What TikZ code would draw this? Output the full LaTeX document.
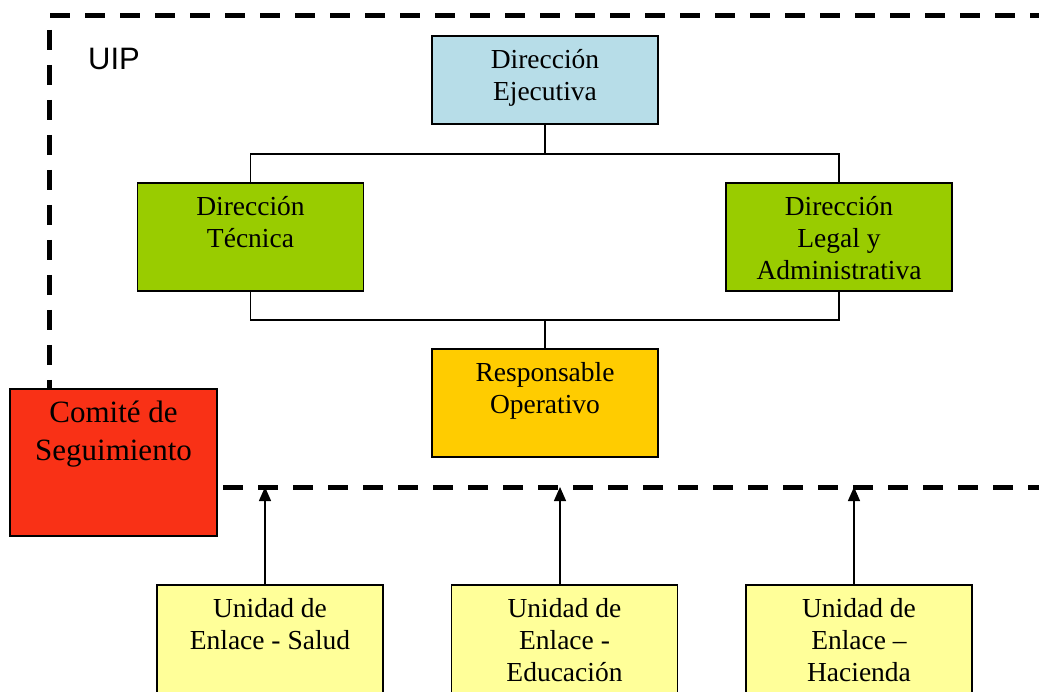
\documentclass[tikz,border=0pt]{standalone}
\usepackage{fontspec}
\setmainfont{Liberation Serif}
\newfontfamily\uipfont{Liberation Sans}
\usetikzlibrary{arrows.meta}
\definecolor{blueE}{HTML}{B7DDE8}
\definecolor{greenD}{HTML}{99CC00}
\definecolor{orangeR}{HTML}{FFCC00}
\definecolor{redC}{HTML}{F93116}
\definecolor{yellowU}{HTML}{FFFF99}
\newcommand\topstrutx{\rule{0pt}{24pt}}
\begin{document}
\begin{tikzpicture}[x=1pt,y=-1pt,
  box/.style={draw=black, line width=1.6pt, inner sep=0pt},
  wbox/.style={box, minimum width=226pt, minimum height=108pt},
  framel/.style={line width=5pt, dash pattern=on 20pt off 15pt},
  link/.style={line width=1.3pt},
  arr/.style={link, -{Triangle[length=14pt,width=12pt]}},
  txt/.style={align=center, inner sep=0pt, anchor=north, font=\fontsize{27.5}{32}\selectfont}]
\clip (0,0) rectangle (1039,692);
\fill[white] (0,0) rectangle (1039,692);
% dashed frame
\coordinate (ftl) at (50,16);
\coordinate (ftr) at (1060,16);
\coordinate (fl1) at (49,30);
\coordinate (fl2) at (49,420);
\coordinate (fbl) at (223,487);
\coordinate (fbr) at (1060,487);
\draw[framel] (ftl) -- (ftr);
\draw[framel] (fl1) -- (fl2);
\draw[framel] (fbl) -- (fbr);
\node[anchor=north west, inner sep=0pt, font=\uipfont\fontsize{31}{36}\selectfont] (uip) at (88,48) {UIP};
% boxes
\node[box, fill=blueE, minimum width=226pt, minimum height=88pt] (de) at (545,80) {};
\node[wbox, fill=greenD] (dt) at (250.5,237) {};
\node[wbox, fill=greenD] (dl) at (839,237) {};
\node[wbox, fill=orangeR] (ro) at (545,403) {};
\node[box, fill=redC, minimum width=207pt, minimum height=147pt] (cs) at (113.5,462.5) {};
\node[wbox, fill=yellowU, minimum height=130pt] (us) at (270,650) {};
\node[wbox, fill=yellowU, minimum height=130pt] (ue) at (564.5,650) {};
\node[wbox, fill=yellowU, minimum height=130pt] (uh) at (859,650) {};
% texts
\node[txt] (tde) at ([yshift=-9pt]de.north) {\topstrutx Dirección\\Ejecutiva};
\node[txt] (tdt) at ([yshift=-9pt]dt.north) {\topstrutx Dirección\\Técnica};
\node[txt] (tdl) at ([yshift=-9pt]dl.north) {\topstrutx Dirección\\Legal y\\Administrativa};
\node[txt] (tro) at ([yshift=-9pt]ro.north) {\topstrutx Responsable\\Operativo};
\node[txt, font=\fontsize{31}{38}\selectfont] (tcs) at ([yshift=-10.5pt]cs.north) {\topstrutx Comité de\\Seguimiento};
\node[txt] (tus) at ([yshift=-9pt]us.north) {\topstrutx Unidad de\\Enlace - Salud};
\node[txt] (tue) at ([yshift=-9pt]ue.north) {\topstrutx Unidad de\\Enlace -\\Educación};
\node[txt] (tuh) at ([yshift=-9pt]uh.north) {\topstrutx Unidad de\\Enlace –\\Hacienda};
% connectors
\coordinate (j1) at (545,154);
\coordinate (j2) at (545,320);
\draw[link] (de.south) -- (j1);
\draw[link] (dt.north) |- (j1) -| (dl.north);
\draw[link] (dt.south) |- (j2) -| (dl.south);
\draw[link] (j2) -- (ro.north);
% arrows to the frame
\coordinate (as) at (265,487);
\coordinate (ae) at (560,487);
\coordinate (ah) at (854,487);
\draw[arr] (us.north -| as) -- (as);
\draw[arr] (ue.north -| ae) -- (ae);
\draw[arr] (uh.north -| ah) -- (ah);
\end{tikzpicture}
\end{document}
